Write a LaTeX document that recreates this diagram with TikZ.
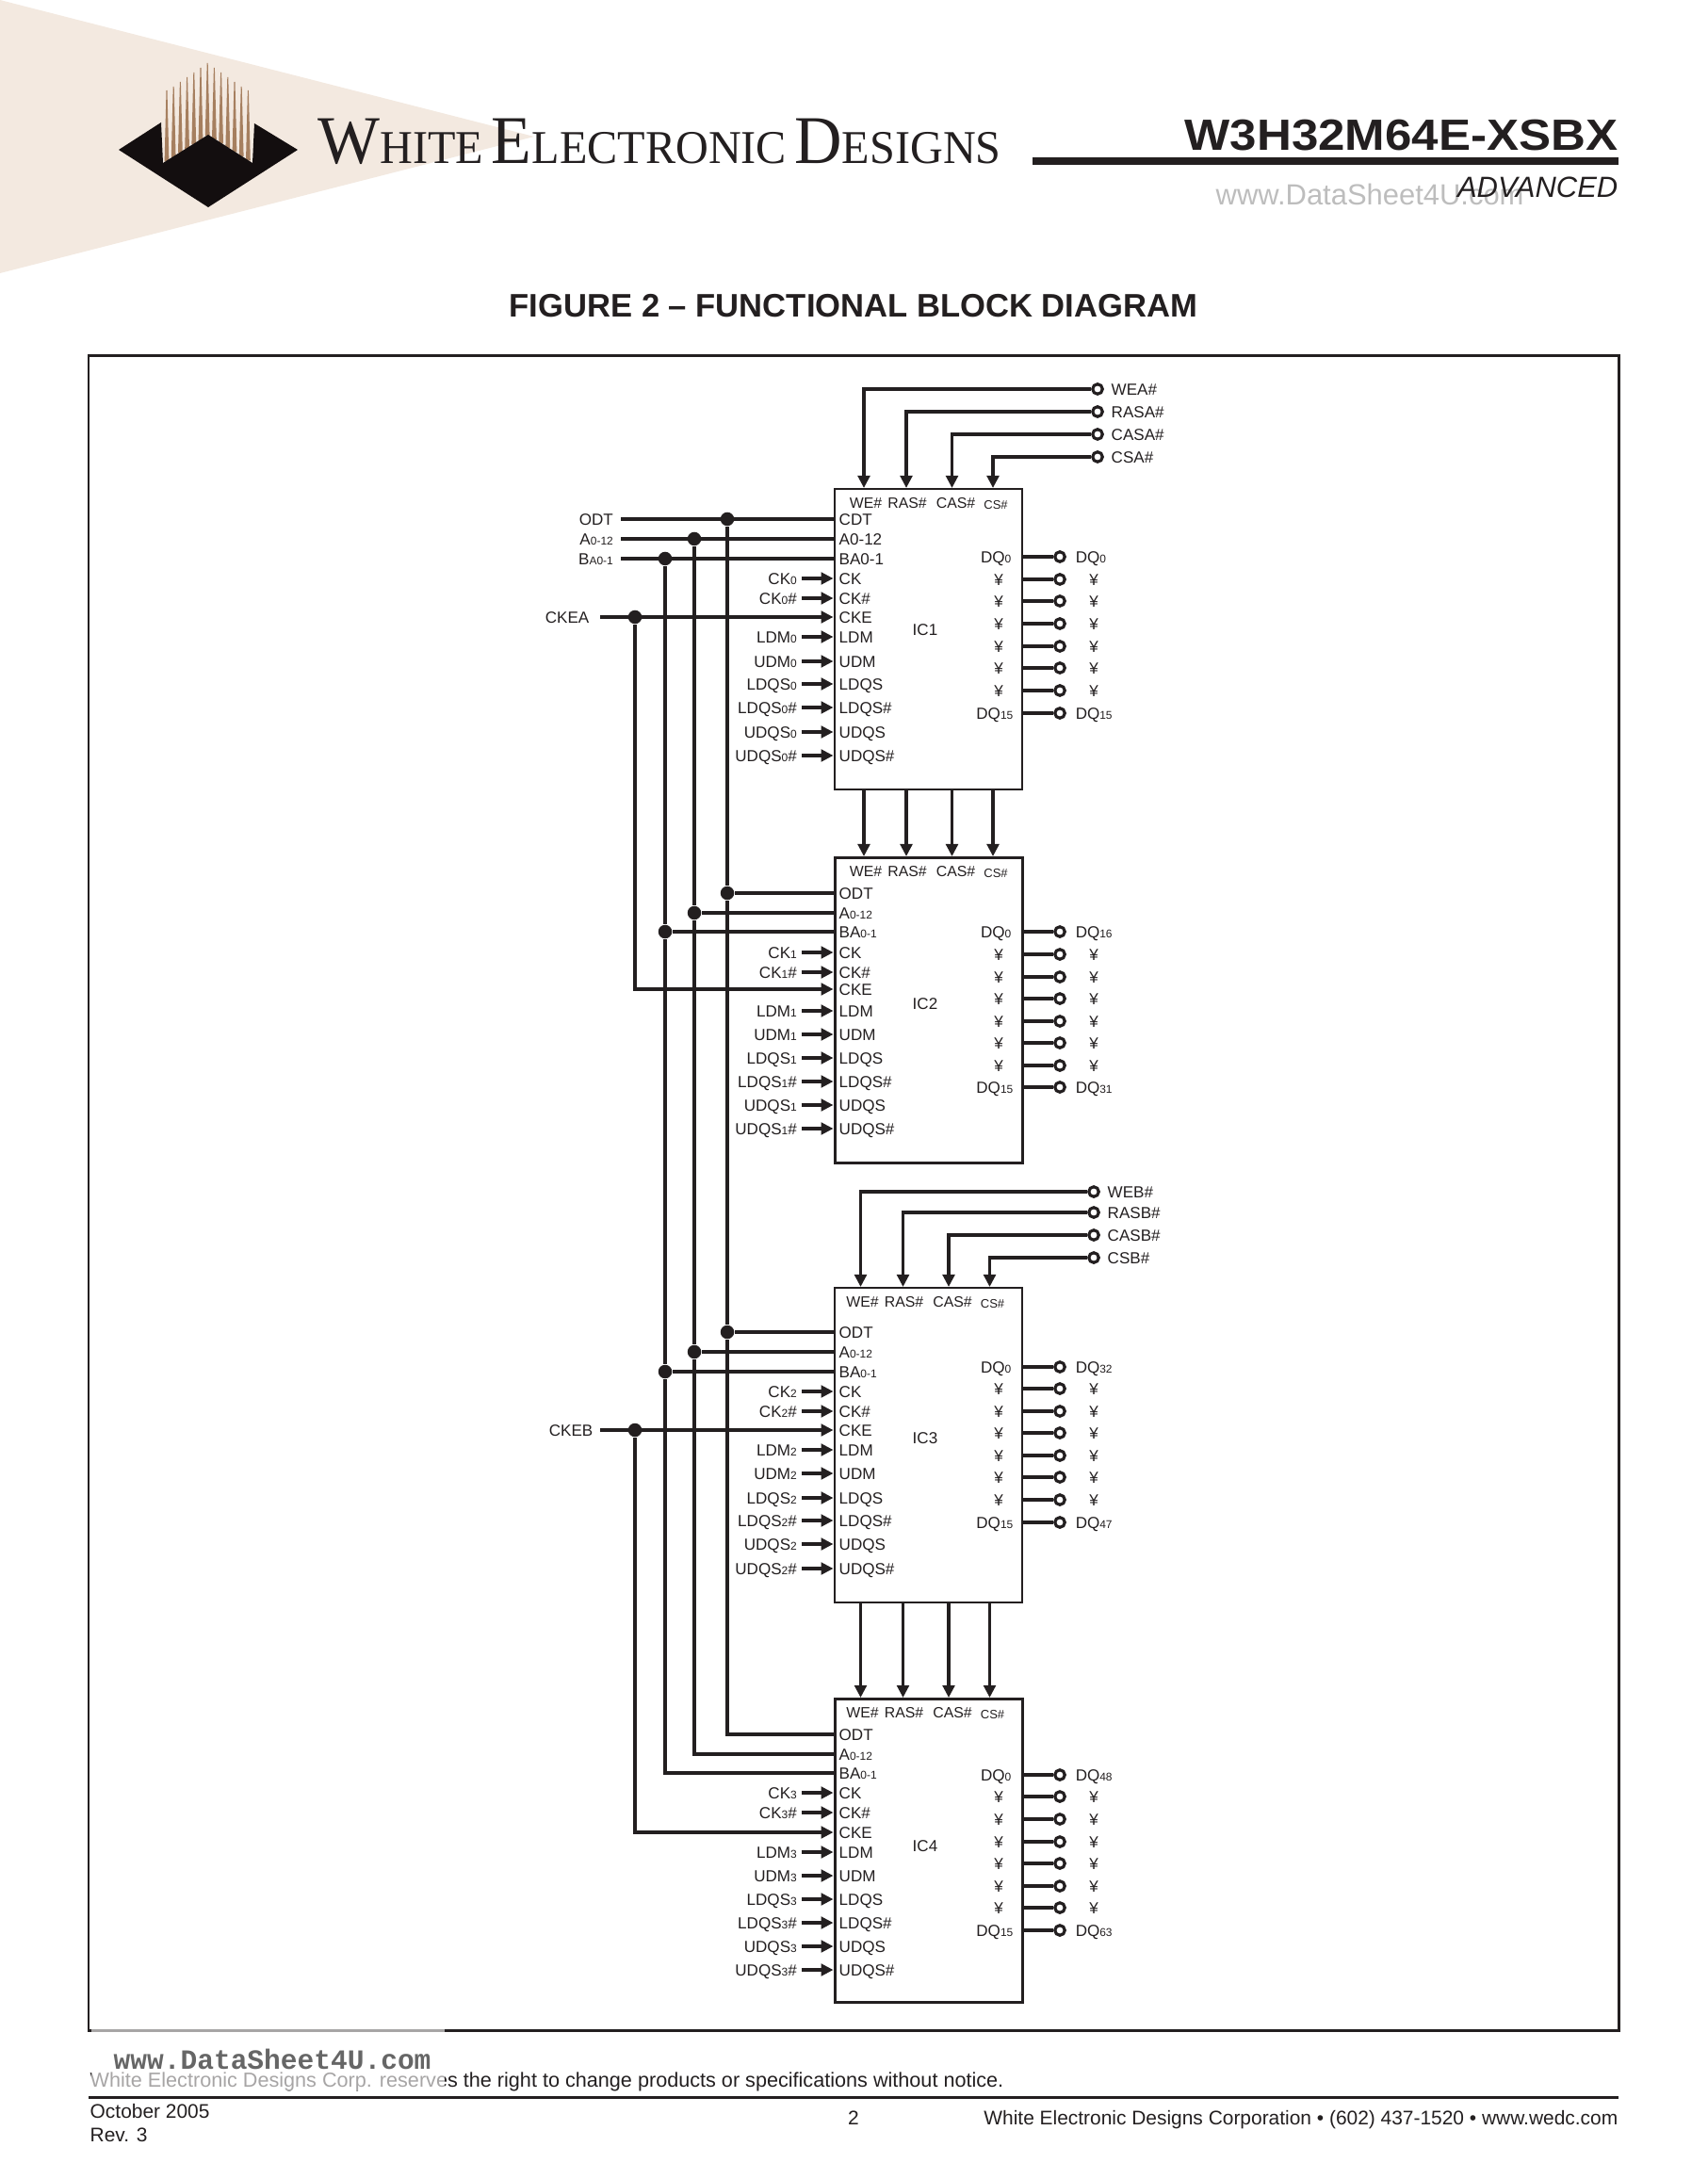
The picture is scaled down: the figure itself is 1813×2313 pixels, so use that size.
\documentclass[tikz,border=0pt]{standalone}
\usepackage{graphicx}
\usepackage{fontspec}
\setmainfont{Liberation Sans}
\newfontfamily\brandfont{Liberation Serif}
\newfontfamily\markfont{Liberation Mono}
\usetikzlibrary{arrows.meta, positioning}
\definecolor{inkblack}{HTML}{231F20}
\definecolor{logoblack}{HTML}{130E0F}
\definecolor{logotan}{HTML}{A67F5F}
\definecolor{pagebeige}{HTML}{F3E9E0}
\definecolor{markgray}{HTML}{BDBDBD}
\newcommand{\subnum}[1]{{\fontsize{3.4}{4}\selectfont #1}}
\newcommand{\brandcap}[2]{{\fontsize{20.6}{21}\selectfont #1}{\fontsize{14.2}{15}\selectfont #2}}
\tikzset{
    chipbox/.style={draw=inkblack, anchor=north west, minimum width=1.995cm, inner sep=0pt},
    wire/.style={draw=inkblack, line width=0.9pt},
    txt/.style={text=inkblack, inner sep=0pt, font=\fontsize{4.85}{6}\selectfont, text height=3.6pt, text depth=0pt},
    toplabel/.style={txt, font=\fontsize{4.5}{6}\selectfont},
    pinlabel/.style={txt, anchor=west},
    siglabel/.style={txt, anchor=east, inner xsep=0.045cm},
    buslabel/.style={txt, anchor=east, inner xsep=0.075cm},
    endpin/.style={circle, draw=inkblack, fill=white, line width=0.9pt, minimum size=0.105cm, inner sep=0pt},
    busdot/.style={circle, fill=inkblack, minimum size=0.145cm, inner sep=0pt}
}
% Bloque de un chip: numero, arriba, abajo, filas izq., filas der., desplazamiento, y de IC, DQ bajo, DQ alto
\newcommand{\chipblock}[9]{
    \pgfmathsetmacro{\chiph}{(#3-#2)/100}
    \pgfmathtruncatemacro{\chipidx}{#1-1}
    \ifodd#1 \def\chipline{0.6pt}\else \def\chipline{0.85pt}\fi
    \node[chipbox, line width=\chipline, minimum height=\chiph cm] (ic#1) at (884.5,#2) {};
    \node[txt] (ic#1-name) at (982,#7) {IC#1};
    % Pines de arriba y de abajo
    \foreach \j/\tx in {1/917,2/962,3/1010.5,4/1054} {
        \coordinate (ic#1-t\j) at (\tx+#6,#2);
        \coordinate (ic#1-b\j) at (\tx+#6,#3);
    }
    \foreach \j/\ctl/\lx in {1/WE\#/919,2/RAS\#/963,3/CAS\#/1014.5} {
        \node[toplabel] (ic#1-top\j) at (\lx+#6,#2+15) {\ctl};
    }
    \node[txt, font=\fontsize{3.7}{5}\selectfont] (ic#1-top4) at (1057+#6,#2+16) {CS\#};
    % Pines de la izquierda
    \foreach \y [count=\k] in {#4} {
        \coordinate (ic#1-l\k) at (884.5,\y);
    }
    \foreach \k/\pin in {4/CK,5/CK\#,6/CKE,7/LDM,8/UDM,9/LDQS,10/LDQS\#,11/UDQS,12/UDQS\#} {
        \node[pinlabel] (ic#1-pin\k) at ([xshift=0.055cm]ic#1-l\k) {\pin};
    }
    \foreach \k/\sig/\suf in {4/CK/{},5/CK/\#,7/LDM/{},8/UDM/{},9/LDQS/{},10/LDQS/\#,11/UDQS/{},12/UDQS/\#} {
        \node[siglabel] (ic#1-sig\k) at ([xshift=-0.335cm]ic#1-l\k) {\sig\subnum{\chipidx}\suf};
        \draw[wire, ->] (ic#1-sig\k.east) -- (ic#1-l\k);
    }
    % Salidas DQ
    \foreach \y [count=\k] in {#5} {
        \coordinate (ic#1-r\k) at (1084,\y);
        \node[endpin] (ic#1-o\k) at (1125,\y) {};
        \draw[wire] (ic#1-r\k) -- (ic#1-o\k);
    }
    \foreach \k in {2,...,7} {
        \node[txt] (ic#1-in\k) at ([xshift=-0.24cm]ic#1-r\k) {¥};
        \node[txt] (ic#1-out\k) at ([xshift=0.77cm]ic#1-r\k) {¥};
    }
    \node[pinlabel, anchor=east] (ic#1-in1) at ([xshift=-0.1cm]ic#1-r1) {DQ\subnum{0}};
    \node[pinlabel, anchor=east] (ic#1-in8) at ([xshift=-0.08cm]ic#1-r8) {DQ\subnum{15}};
    \node[pinlabel] (ic#1-out1) at ([xshift=0.57cm]ic#1-r1) {DQ\subnum{#8}};
    \node[pinlabel] (ic#1-out8) at ([xshift=0.57cm]ic#1-r8) {DQ\subnum{#9}};
}
\begin{document}
\begin{tikzpicture}[x=0.01cm, y=-0.01cm, >={Triangle[length=3.7pt,width=3.6pt]}]
    \useasboundingbox (0,0) rectangle (1813,2313);

    % Triangulo de fondo y logotipo
    \fill[pagebeige] (0,0) -- (567,145) -- (0,290) -- cycle;
    \foreach \k/\peak in {0/96,1/92,2/87,3/82,4/77,5/72,6/67,7/72,8/77,9/82,10/87,11/92,12/96} {
        \pgfmathsetmacro{\sx}{177+7.2*\k}
        \pgfmathsetmacro{\roof}{173-30*(1-abs(\sx-221)/48)+1}
        \fill[logotan] (\sx-0.5,\peak) -- (\sx+0.5,\peak) -- (\sx+2.4,\roof) -- (\sx-2.4,\roof) -- cycle;
    }
    \fill[logoblack] (126,159) -- (171,130) -- (173,173) -- (221,143) -- (268,173) -- (270,131) -- (316,159) -- (221,220) -- cycle;

    % Encabezado
    \node[anchor=base west, inner sep=0pt, text=inkblack] (brandname) at (337,174)
        {\scalebox{0.965}[1]{\brandfont\brandcap{W}{HITE} \brandcap{E}{LECTRONIC} \brandcap{D}{ESIGNS}}};
    \node[anchor=base east, inner sep=0pt, text=inkblack, font=\fontsize{13.2}{14}\selectfont\bfseries] (partno) at (1718,160) {\scalebox{1.1}[1]{W3H32M64E-XSBX}};
    \fill[inkblack] (1096,167) rectangle (1718,175);
    \node[anchor=base west, inner sep=0pt, text=markgray, font=\fontsize{8.8}{10}\selectfont] (topmark) at (1290,218) {www.DataSheet4U.com};
    \node[anchor=base east, inner sep=0pt, text=inkblack, font=\fontsize{8.8}{10}\selectfont\itshape] (grade) at (1718,210) {ADVANCED};
    \node[anchor=base, inner sep=0pt, text=inkblack, font=\fontsize{9.84}{11}\selectfont\bfseries] (figtitle) at (906,337) {FIGURE 2 – FUNCTIONAL BLOCK DIAGRAM};

    % Marco del diagrama
    \draw[inkblack, line width=0.85pt] (94,378) rectangle (1718,2155);

    % Los cuatro chips
    \chipblock{1}{518}{837}{551,572,593,614,635,655,676,702,726,751,777,802}{591,615,638,662,686,709,733,757}{0}{668}{0}{15}
    \chipblock{2}{909}{1233}{948,969,989,1011,1032,1050,1073,1098,1123,1148,1173,1198}{989,1013,1037,1060,1084,1107,1131,1154}{0}{1065}{16}{31}
    \chipblock{3}{1366}{1700}{1414,1435,1456,1477,1498,1518,1539,1564,1590,1614,1639,1665}{1451,1474,1498,1521,1545,1568,1592,1616}{-3.5}{1526}{32}{47}
    \chipblock{4}{1802}{2124}{1841,1862,1882,1903,1924,1945,1966,1991,2016,2041,2066,2091}{1884,1907,1931,1955,1978,2002,2025,2049}{-3.5}{1959}{48}{63}

    % Etiquetas de las tres primeras filas
    \foreach \n/\pa/\pb/\pc in {1/CDT/A0-12/BA0-1, 2/ODT/A\subnum{0-12}/BA\subnum{0-1}, 3/ODT/A\subnum{0-12}/BA\subnum{0-1}, 4/ODT/A\subnum{0-12}/BA\subnum{0-1}} {
        \node[pinlabel] (ic\n-pin1) at ([xshift=0.055cm]ic\n-l1) {\pa};
        \node[pinlabel] (ic\n-pin2) at ([xshift=0.055cm]ic\n-l2) {\pb};
        \node[pinlabel] (ic\n-pin3) at ([xshift=0.055cm]ic\n-l3) {\pc};
    }

    % Senales de control de arriba
    \foreach \k/\sig/\y in {1/WEA\#/413, 2/RASA\#/437, 3/CASA\#/461, 4/CSA\#/485} {
        \node[endpin] (ctla\k) at (1165,\y) {};
        \node[pinlabel] (ctla\k-name) at (1179,\y) {\sig};
        \draw[wire, ->] (ctla\k) -| (ic1-t\k);
        \draw[wire, ->] (ic1-b\k) -- (ic2-t\k);
    }
    \foreach \k/\sig/\y in {1/WEB\#/1265, 2/RASB\#/1287, 3/CASB\#/1311, 4/CSB\#/1335} {
        \node[endpin] (ctlb\k) at (1161,\y) {};
        \node[pinlabel] (ctlb\k-name) at (1175,\y) {\sig};
        \draw[wire, ->] (ctlb\k) -| (ic3-t\k);
        \draw[wire, ->] (ic3-b\k) -- (ic4-t\k);
    }

    % Buses verticales
    \coordinate (odtbus) at (772,0);
    \coordinate (abus) at (737,0);
    \coordinate (babus) at (706,0);
    \coordinate (ckebus) at (674,0);
    \node[buslabel] (odt) at (659,551) {ODT};
    \node[buslabel] (addr) at (659,572) {A\subnum{0-12}};
    \node[buslabel] (bank) at (659,593) {B\subnum{A0-1}};
    \foreach \bus/\k/\start in {odtbus/1/odt, abus/2/addr, babus/3/bank} {
        \foreach \n in {1,2,3} {
            \node[busdot] (dot-\bus-\n) at (\bus |- ic\n-l\k) {};
        }
        \draw[wire] (\start.east) -- (ic1-l\k);
        \draw[wire] (dot-\bus-2) -- (ic2-l\k);
        \draw[wire] (dot-\bus-3) -- (ic3-l\k);
        \draw[wire] (dot-\bus-1) -- (dot-\bus-2) -- (dot-\bus-3) |- (ic4-l\k);
    }

    % Habilitacion de reloj
    \node[buslabel, inner xsep=0.11cm] (ckea) at (637,655) {CKEA};
    \node[buslabel, inner xsep=0.07cm] (ckeb) at (637,1518) {CKEB};
    \node[busdot] (dot-ckea) at (ckebus |- ic1-l6) {};
    \node[busdot] (dot-ckeb) at (ckebus |- ic3-l6) {};
    \draw[wire, ->] (ckea.east) -- (ic1-l6);
    \draw[wire, ->] (ckeb.east) -- (ic3-l6);
    \draw[wire, ->] (dot-ckea) |- (ic2-l6);
    \draw[wire, ->] (dot-ckeb) |- (ic4-l6);

    % Pie de pagina
    \node[anchor=base west, inner sep=0pt, text=inkblack, font=\fontsize{6.15}{7}\selectfont] (notice) at (95,2215) {White Electronic Designs Corp. reserves the right to change products or specifications without notice.};
    \fill[white, opacity=0.6] (97,2152) rectangle (472,2219);
    \node[anchor=base west, inner sep=0pt, text=black!60, font=\markfont\fontsize{8.4}{10}\selectfont\bfseries] (footmark) at (120,2196) {www.DataSheet4U.com};
    \fill[inkblack] (94,2225) rectangle (1718,2228);
    \node[anchor=base west, inner sep=0pt, text=inkblack, font=\fontsize{5.95}{7}\selectfont] (pubdate) at (95,2248) {October 2005};
    \node[anchor=base west, inner sep=0pt, text=inkblack, font=\fontsize{5.95}{7}\selectfont] (revision) at (95,2273) {Rev. 3};
    \node[anchor=base, inner sep=0pt, text=inkblack, font=\fontsize{5.95}{7}\selectfont] (pageno) at (906,2255) {2};
    \node[anchor=base east, inner sep=0pt, text=inkblack, font=\fontsize{5.95}{7}\selectfont] (company) at (1718,2255) {White Electronic Designs Corporation • (602) 437-1520 • www.wedc.com};
\end{tikzpicture}
\end{document}
